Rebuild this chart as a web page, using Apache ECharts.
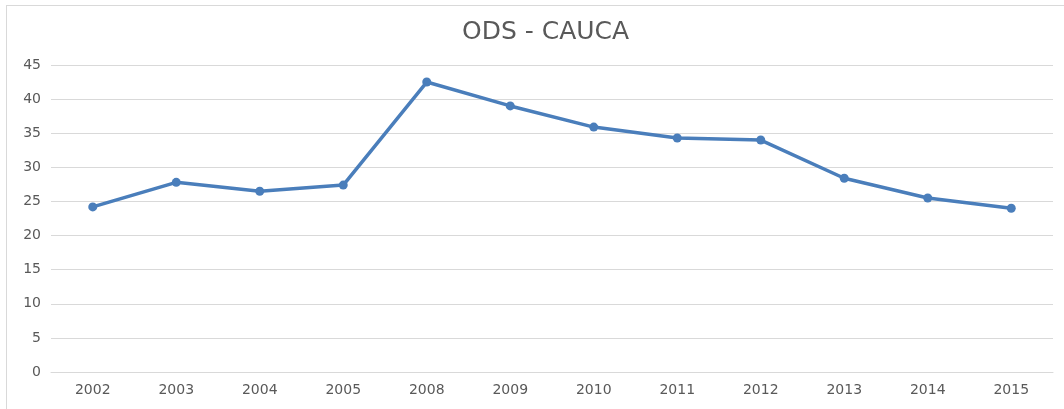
<!DOCTYPE html>
<html>
<head>
<meta charset="utf-8">
<style>
  html, body { margin: 0; padding: 0; background: #fff; }
  #frame { position: absolute; left: 6px; top: 5px; width: 1060px; height: 410px; border: 1px solid #d9d9d9; box-sizing: border-box; }
  #main { position: absolute; left: 0; top: 0; width: 1064px; height: 409px; }
</style>
<script src="https://cdn.jsdelivr.net/npm/echarts@6/dist/echarts.min.js"></script>
</head>
<body>
<div id="frame"></div>
<div id="main"></div>
<script>
// datos
const years = ['2002', '2003', '2004', '2005', '2008', '2009', '2010', '2011', '2012', '2013', '2014', '2015'];
const values = [24.2, 27.8, 26.5, 27.4, 42.5, 39.0, 35.9, 34.3, 34.0, 28.4, 25.5, 24.0];

const myChart = echarts.init(document.getElementById('main'));
myChart.setOption({
  animation: false,
  title: {
    text: 'ODS - CAUCA',
    left: 457,
    top: 15,
    textStyle: { fontFamily: 'DejaVu Sans', fontSize: 25, fontWeight: 'normal', color: '#595959' }
  },
  grid: { left: 51, right: 11, top: 65, bottom: 37, containLabel: false },
  xAxis: {
    type: 'category',
    data: years,
    axisLine: { show: true, lineStyle: { color: '#d9d9d9' } },
    axisTick: { show: false },
    axisLabel: { color: '#595959', fontFamily: 'DejaVu Sans', fontSize: 14, margin: 11 }
  },
  yAxis: {
    type: 'value',
    min: 0,
    max: 45,
    interval: 5,
    axisLine: { show: false },
    axisTick: { show: false },
    axisLabel: { color: '#595959', fontFamily: 'DejaVu Sans', fontSize: 14, margin: 10 },
    splitLine: { lineStyle: { color: '#d9d9d9', width: 1 } }
  },
  series: [{
    name: 'ODS - CAUCA',
    type: 'line',
    data: values,
    symbol: 'circle',
    symbolSize: 9,
    lineStyle: { color: '#4a7ebb', width: 3.5 },
    itemStyle: { color: '#4a7ebb' }
  }]
});
</script>
</body>
</html>
